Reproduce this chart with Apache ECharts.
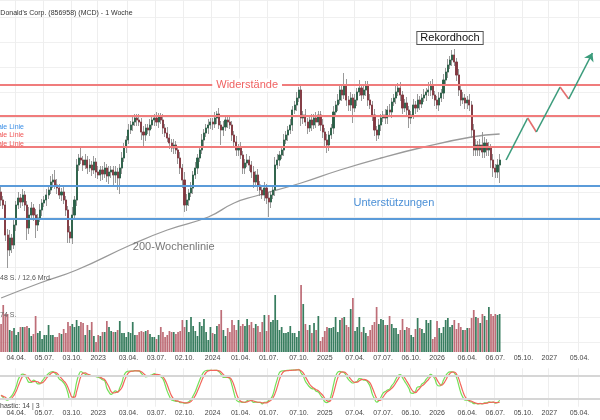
<!DOCTYPE html>
<html><head><meta charset="utf-8">
<script src="https://cdn.jsdelivr.net/npm/echarts@6/dist/echarts.min.js"></script>
<style>html,body{margin:0;padding:0;background:#fff}#c{width:600px;height:420px}</style>
</head><body><div id="c"></div>
<script>
// ---------- data ----------
const startDate = '2022-02-14';
const weekCount = 278;
const firstOpen = 255;
const closes = [
251,248.5,233.5,226,232,228.5,238.5,248.5,252,250,
253.5,248.5,237,243.5,247,243.5,238.5,242,246,249.5,
251,253.5,256,260,261,258.5,257,253.5,255,251,
246,235,232,243.5,251,268.5,272,271,268.5,271,
267,268.5,266,270,265,263.5,266,264,267,263,
265,266,263.5,265,262,267,272,277.5,281,286,
288.5,290,292,291,290,285,283.5,287,286,288.5,
291,292,290,292.5,291,287,284.5,282,279.5,277,
278.5,276,272,267,261,248.5,251,254.5,257,263.5,
267,272,276,281,284.5,287,288.5,290,289,292,
294,288.5,286,287.5,291,290,288.5,283.5,280,276,
277,273.5,267,269.5,271,268.5,265,260,263.5,258.5,
256,253.5,257,252,250,253.5,256,268.5,271,273.5,
276,281,283.5,286,288.5,296,298.5,302,306,292,
293.5,290,287,291,288.5,292,290,293.5,288.5,285,
281,278.5,283.5,287,295,298.5,301,306,303.5,308.5,
301,298.5,302,297,301,305,307,303.5,306,308.5,
301,298.5,293.5,286,283.5,288.5,292,293.5,292,296,
295,300,302,305,307,303.5,297,299.5,296,292,
293.5,298.5,297,301,299,302,303.5,305,306,308.5,
303.5,301,298.5,302,304.5,311,315,318.5,321,323.5,
320,313.5,306,301,302,299.5,301,298.5,286,276,
278.5,276,278.5,275,279.5,276,277,271,267,265,
268.5,271];
const wickHigh = [
3,2,2,3,4,2,3,2,3,2, 3,2,2,4,3,2,3,2,3,2, 2,3,2,3,3,5,3,2,2,3, 2,2,3,4,2,3,2,5.5,2,3,
2,3,2,3,2,3,2,2,3,2, 3,2,2,3,2,2,3,2,2,3, 2,3,2,2,3,2,3,2,2,3, 2,2,3,2,2,3,2,3,2,2,
3,2,2,3,2,4,3,2,3,2, 3,2,2,3,2,2,3,2,2,3, 1.5,3,2,3,2,2,3,2,2,3, 2,3,2,2,3,2,2,3,2,3,
2,2,3,2,3,2,2,4,3,2, 2,3,2,2,3,2,2,3,1.5,3, 2,3,2,2,3,2,3,2,2,3, 2,3,2,2,3,2,3,2,2,6,
3,2,3,2,3,2,4,2,3,2, 2,3,2,3,2,3,2,2,3,2, 3,2,2,3,2.5,3,2,2,3,2, 2,3,2,3,2,2,3,2,4,2,
3,2,2,3,2,3,2,3,2,2.5, 3,2,3,2,3,2,2,3,2,3, 3,2,3,6.5,3,2,3,2,3,2, 3,3];
const wickLow = [
3,2,3,9,3,4,2,3,2,3, 2,3,6,3,2,3,6.5,3,2,3, 2,3,2,2,3,2,3,2,3,2, 3,5.5,2.5,3,2,3,3,2,3,2,
3,2,3,2,3,2,3,3,2,3, 4,3,5,4,6,8,3,2,3,2, 2,3,2,3,2,4,6,3,2,3, 2,3,2,3,2,3,2,2,3,2,
3,2,3,3,4,3.5,3,3,2,3, 2,3,2,2,3,2,3,2,3,2, 3,2,7.5,3,2,3,2,3,2,3, 3,2,3,3,2,3,3,3,2,3,
3,2,3,3,7.5,3,2,3,2,3, 2,3,2,3,2,3,2,3,2,4, 3,2,3,2,3,2,3,2,3,3, 3,4,3,2,3,2,3,2,3,2,
3,3,3,7.5,2,3,2,3,2,3, 3,2,3,3,3,2,3,2,3,3, 2,3,2,3,2,3,3,2,3,5, 3,2,3,2,3,2,2,3,2,3,
2,3,2,3,2,3,2,3,2,3, 2,3,3,3,2,3,3,3,4,3, 3,3,3,3,3,3,3,4,4.5,3, 3,9];
const volumes = [
2.8,4.7,3.8,3.8,2.2,2.1,2.4,1.7,2.0,2.5, 2.5,2.5,2.6,2.4,1.6,1.8,3.6,1.9,2.1,1.3,
1.7,1.7,2.7,1.7,1.7,1.5,1.5,1.9,1.8,2.3, 1.9,3.0,2.6,2.8,2.5,3.2,2.6,3.0,2.9,1.7,
2.7,2.2,3.0,1.6,1.0,1.7,1.6,2.0,2.0,3.1, 2.5,2.1,2.0,2.0,2.2,3.1,1.9,1.9,1.5,2.0,
1.9,3.0,1.7,1.7,2.0,2.1,2.0,2.1,2.2,1.8, 1.5,1.5,1.3,1.7,2.5,2.0,1.5,1.7,2.1,2.0,
2.0,1.8,2.0,2.1,3.2,2.5,3.2,2.0,3.5,2.6, 2.1,1.6,3.0,2.6,3.3,2.0,1.2,2.5,1.9,1.8,
2.6,2.8,4.2,2.2,1.6,2.4,2.0,3.2,2.7,2.2, 3.2,2.6,2.8,2.6,3.3,2.7,3.0,2.4,2.8,2.6,
2.0,3.0,3.7,2.1,3.7,3.0,3.2,5.7,3.2,2.2, 2.5,1.9,1.9,2.0,2.6,1.9,1.9,1.5,2.1,6.7,
4.8,2.8,2.2,2.7,1.9,2.9,2.2,3.6,1.1,1.5, 2.1,2.5,2.4,2.4,2.5,3.5,2.0,3.2,3.4,3.5,
2.7,2.5,4.3,5.4,2.1,2.5,3.5,2.0,2.5,1.9, 1.6,2.2,2.7,3.0,4.5,2.8,3.3,3.2,2.7,2.7,
3.6,2.8,2.4,2.4,1.8,2.2,3.3,2.2,2.5,2.4, 1.7,1.5,2.3,3.4,2.4,2.3,1.9,3.2,2.9,3.2,
1.3,1.5,3.1,2.4,1.9,2.5,3.2,3.4,2.5,2.7, 3.2,2.3,2.9,2.5,2.2,2.2,2.4,2.4,3.4,4.2,
3.5,3.4,2.9,3.8,3.6,3.2,4.5,3.8,3.6,3.8, 3.7,3.8];
// 200-week average: [week index, price]
const ma200 = [[0,202],[18,209.5],[35,216],[60,228.5],[77,236],[96,242.5],[108,249.5],[118,253],[139,259.5],[157,266],[176,272],[196,277.5],[218,282.5],[231,284]];
const resistanceLines = [308.5, 293.2, 277.7];
const supportLines = [258.2, 241.5];
// forecast path: [week index, price]
const forecast = [[234,271],[244,292],[248,285],[259,307.5],[263,301.5],[274,324.5]];
const tickDates = ['2022-04-04','2022-07-04','2022-10-03','2022-12-26','2023-04-03','2023-07-03','2023-10-02','2024-01-01','2024-04-01','2024-07-01','2024-10-07','2024-12-30','2025-04-07','2025-07-07','2025-10-06','2025-12-29','2026-04-06','2026-07-06','2026-10-05','2026-12-28','2027-04-05'];
const tickLabels = ['04.04.','05.07.','03.10.','2023','03.04.','03.07.','02.10.','2024','01.04.','01.07.','07.10.','2025','07.04.','07.07.','06.10.','2026','06.04.','06.07.','05.10.','2027','05.04.'];

// ---------- build ----------
const categories = [];
const t0 = Date.parse(startDate + 'T00:00:00Z');
for (let i = 0; i < weekCount; i++) categories.push(new Date(t0 + i * 7 * 864e5).toISOString().slice(0, 10));
const tickMap = {}; tickDates.forEach((d, i) => tickMap[d] = tickLabels[i]);
const tickFn = (idx, val) => tickMap[val] !== undefined;

const ohlc = []; let prev = firstOpen;
closes.forEach((c, i) => {
  const o = prev;
  ohlc.push([o, c, Math.min(o, c) - wickLow[i], Math.max(o, c) + wickHigh[i]]);
  prev = c;
});
const bodies = ohlc.map(d => [d[0], d[1], Math.min(d[0], d[1]), Math.max(d[0], d[1])]);
const GREEN = '#285f46', RED = '#84363f';
const volData = volumes.map((v, i) => ({ value: v, itemStyle: { color: ohlc[i][1] >= ohlc[i][0] ? 'rgba(45,118,86,0.95)' : 'rgba(184,98,108,0.92)' } }));

const rawK = ohlc.map((d, i) => {
  let hh = -Infinity, ll = Infinity;
  for (let j = Math.max(0, i - 13); j <= i; j++) { hh = Math.max(hh, ohlc[j][3]); ll = Math.min(ll, ohlc[j][2]); }
  return hh === ll ? 50 : (d[1] - ll) / (hh - ll) * 100;
});
const sma = (a, n) => a.map((v, i) => { let s = 0, k = 0; for (let j = Math.max(0, i - n + 1); j <= i; j++) { s += a[j]; k++; } return s / k; });
const stochK = sma(rawK, 3);
const stochD = sma(stochK, 3);

const hLines = resistanceLines.map(v => ({ yAxis: v, lineStyle: { color: '#f07c7c', width: 2, type: 'solid' } }))
  .concat(supportLines.map(v => ({ yAxis: v, lineStyle: { color: '#5b9bd9', width: 2, type: 'solid' } })));
const fLines = [];
for (let k = 0; k < forecast.length - 1; k++) {
  const a = forecast[k], b = forecast[k + 1];
  const up = b[1] > a[1];
  const last = k === forecast.length - 2;
  fLines.push([
    { coord: [categories[a[0]], a[1]], symbol: 'none' },
    { coord: [categories[b[0]], b[1]], symbol: last ? 'arrow' : 'none', symbolSize: 8,
      lineStyle: { color: up ? '#3c9c7c' : '#e46e6e', width: 1.6, type: 'solid' } }
  ]);
}

const FONT = 'Liberation Sans, Arial, sans-serif';
const note = (text, week, price, extra) => ({
  coord: [categories[week], price], symbol: 'rect', symbolSize: 1, itemStyle: { color: 'rgba(0,0,0,0)' },
  label: Object.assign({ show: true, position: 'inside', formatter: text, fontSize: 11, fontFamily: FONT }, extra)
});

const xBase = (gi, showLabels) => ({
  type: 'category', gridIndex: gi, data: categories, boundaryGap: true,
  axisLine: { show: false }, axisTick: { show: false },
  axisLabel: { show: showLabels, interval: tickFn, formatter: v => tickMap[v] || '', fontSize: 7, color: '#444', fontFamily: FONT, margin: 3 },
  splitLine: { show: true, interval: tickFn, lineStyle: { color: '#eeeeee', width: 1 } }
});

const chart = echarts.init(document.getElementById('c'), null, { renderer: 'canvas' });
chart.setOption({
  animation: false,
  backgroundColor: '#fff',
  grid: [
    { left: 0, right: 0, top: 0, height: 342 },
    { left: 0, right: 0, top: 282, height: 70 },
    { left: 0, right: 0, top: 368.3, height: 38.4 }
  ],
  xAxis: [xBase(0, false), xBase(1, true), xBase(2, true)],
  yAxis: [
    { type: 'value', gridIndex: 0, min: 180, max: 351, interval: 12.5, axisLabel: { show: false }, axisLine: { show: false }, axisTick: { show: false }, splitLine: { lineStyle: { color: '#f0f0f0' } } },
    { type: 'value', gridIndex: 1, min: 0, max: 7, show: false },
    { type: 'value', gridIndex: 2, min: 0, max: 100, show: false }
  ],
  series: [
    { name: 'MA200', type: 'line', xAxisIndex: 0, yAxisIndex: 0, z: 1, smooth: true, symbol: 'none',
      data: ma200.map(p => [categories[p[0]], p[1]]), lineStyle: { color: '#9a9a9a', width: 1.3 },
      markLine: { silent: true, symbol: 'none', label: { show: false }, data: hLines.concat(fLines) } },
    { name: 'wick', type: 'candlestick', xAxisIndex: 0, yAxisIndex: 0, z: 2, barWidth: 1.6, data: ohlc,
      itemStyle: { color: '#8f8f8f', color0: '#8f8f8f', borderColor: '#8f8f8f', borderColor0: '#8f8f8f', borderWidth: 0.9 } },
    { name: 'body', type: 'candlestick', xAxisIndex: 0, yAxisIndex: 0, z: 3, barWidth: 1.6, data: bodies,
      itemStyle: { color: GREEN, color0: RED, borderColor: GREEN, borderColor0: RED, borderWidth: 0.8 },
      markPoint: { silent: true, data: [
        note('Widerstände', 114, 308.5, { color: '#f06262', backgroundColor: '#fff', padding: [1, 4] }),
        note('Unterstützungen', 182, 249.5, { color: '#4a8fd6' }),
        note('200-Wochenlinie', 80, 227.5, { color: '#777' }),
        note('Rekordhoch', 208, 332, { color: '#111', backgroundColor: '#fff', borderColor: '#555', borderWidth: 1, padding: [1, 3, 0, 3] })
      ] } },
    { name: 'vol', type: 'bar', xAxisIndex: 1, yAxisIndex: 1, barWidth: '80%', data: volData },
    { name: 'K', type: 'line', xAxisIndex: 2, yAxisIndex: 2, symbol: 'none', smooth: true, data: stochK,
      lineStyle: { color: '#74e05a', width: 1.2 },
      markLine: { silent: true, symbol: 'none', label: { show: false },
        data: [{ yAxis: 80 }, { yAxis: 20 }], lineStyle: { color: '#d6d6d6', width: 2, type: 'solid' } } },
    { name: 'D', type: 'line', xAxisIndex: 2, yAxisIndex: 2, symbol: 'none', smooth: true, data: stochD,
      lineStyle: { color: '#f2675c', width: 1.2 } }
  ],
  graphic: [
    { type: 'text', z: 100, style: { text: "McDonald's Corp. (856958) (MCD) - 1 Woche", x: -9, y: 13, verticalAlign: 'middle', font: '7px ' + FONT, fill: '#333' } },
    { type: 'text', z: 100, style: { text: 'Horizontale Linie', x: 24, y: 127, align: 'right', verticalAlign: 'middle', font: '7px ' + FONT, fill: '#3a8ee6' } },
    { type: 'text', z: 100, style: { text: 'Horizontale Linie', x: 24, y: 135.5, align: 'right', verticalAlign: 'middle', font: '7px ' + FONT, fill: '#f05555' } },
    { type: 'text', z: 100, style: { text: 'Horizontale Linie', x: 24, y: 144, align: 'right', verticalAlign: 'middle', font: '7px ' + FONT, fill: '#f05555' } },
    { type: 'text', z: 100, style: { text: '48 S. / 12,6 Mrd.', x: 0, y: 278, verticalAlign: 'middle', font: '7px ' + FONT, fill: '#555' } },
    { type: 'text', z: 100, style: { text: '74 S.', x: 0, y: 315, verticalAlign: 'middle', font: '7px ' + FONT, fill: '#666' } },
    { type: 'text', z: 100, style: { text: 'Stochastic: 14 | 3', x: -14, y: 406, verticalAlign: 'middle', font: '7px ' + FONT, fill: '#444' } }
  ]
});
</script></body></html>
